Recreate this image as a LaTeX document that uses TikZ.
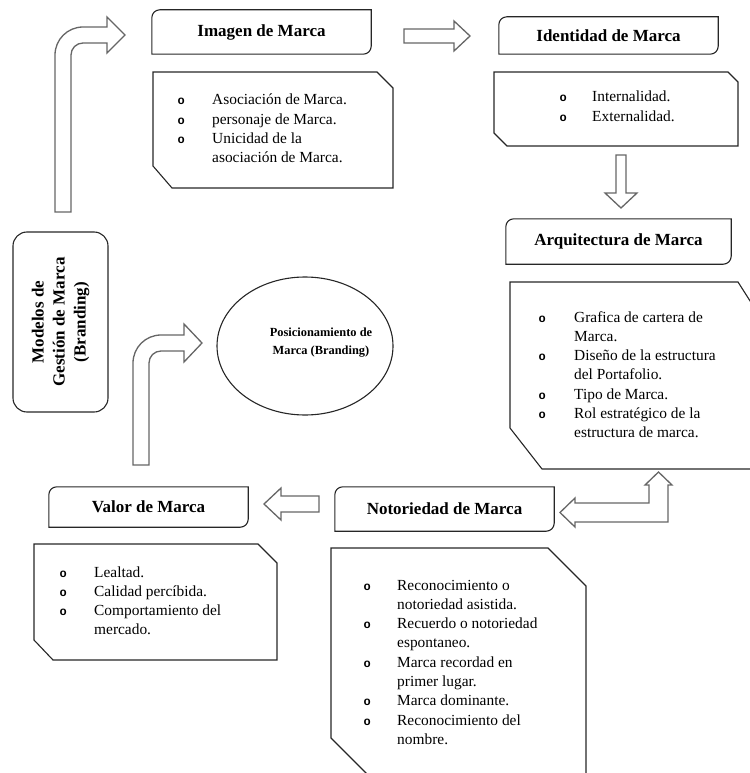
\documentclass[tikz,border=0pt]{standalone}
\usepackage{fontspec}
\setmainfont{Liberation Serif}
\setmonofont{Liberation Mono}
\usetikzlibrary{shapes.geometric,calc}
\newcommand{\lbul}{{\ttfamily\bfseries\fontsize{12}{14}\selectfont o}}
\newcommand{\blist}[2]{\begin{tabular}[t]{@{}p{#1}@{}l@{}}#2\end{tabular}}
\newcommand{\ttlbox}[1]{\draw[boxline] (#1.south west) -- ($(#1.north west)+(0,8)$) arc[start angle=180,end angle=270,radius=8] -- (#1.north east) -- ($(#1.south east)+(0,-8)$) arc[start angle=0,end angle=90,radius=8] -- cycle;}
\tikzset{
  boxline/.style={draw=black!85, line width=1.1pt},
  arrline/.style={draw=black!60, line width=1.3pt, fill=white, line join=miter},
  ttl/.style={font=\fontsize{17}{20}\selectfont\bfseries, inner sep=0pt},
  lst/.style={font=\fontsize{15.4}{19.3}\selectfont, anchor=base west, inner sep=0pt}
}
\begin{document}
\begin{tikzpicture}[x=1pt,y=-1pt]
\useasboundingbox (0,0) rectangle (749,773);

% ---------- title boxes ----------
\node[ttl, minimum width=219pt, minimum height=44pt] (img) at (261.5,32) {Imagen de Marca};
\node[ttl, minimum width=219pt, minimum height=37pt] (ide) at (608.5,35.5) {Identidad de Marca};
\node[ttl, minimum width=225pt, minimum height=45pt] (arq) at (618.5,241.5) {Arquitectura de Marca};
\node[ttl, minimum width=219pt, minimum height=44pt] (not) at (444.5,509) {Notoriedad de Marca};
\node[ttl, minimum width=199pt, minimum height=40pt] (val) at (148.5,507) {Valor de Marca};
\ttlbox{img}
\ttlbox{ide}
\ttlbox{arq}
\ttlbox{not}
\ttlbox{val}

% ---------- list boxes ----------
\draw[boxline] (153,72) -- (377,72) -- (393,88) -- (393,188) -- (172,188) -- (153,166) -- cycle;
\node[lst] (imgl) at (177.4,105) {\blist{34.6pt}{\lbul & Asociación de Marca.\\ \lbul & personaje de Marca.\\ \lbul & Unicidad de la\\ & asociación de Marca.}};

\draw[boxline] (494,72) -- (728,72) -- (738,82) -- (738,146) -- (507,146) -- (494,133) -- cycle;
\node[lst] (idel) at (559.4,102) {\blist{32.6pt}{\lbul & Internalidad.\\ \lbul & Externalidad.}};

\draw[boxline] (510,282) -- (738,282) -- (752,304) -- (752,469) -- (542,469) -- (510,428) -- cycle;
\node[lst] (arql) at (538.4,322) {\blist{35.6pt}{\lbul & Grafica de cartera de\\ & Marca.\\ \lbul & Diseño de la estructura\\ & del Portafolio.\\ \lbul & Tipo de Marca.\\ \lbul & Rol estratégico de la\\ & estructura de marca.}};

\draw[boxline] (34,544) -- (258,544) -- (277,563) -- (277,660) -- (53,660) -- (34,640) -- cycle;
\node[lst] (vall) at (59.4,577) {\blist{34.6pt}{\lbul & Lealtad.\\ \lbul & Calidad percíbida.\\ \lbul & Comportamiento del\\ & mercado.}};

\draw[boxline] (331,548) -- (548,548) -- (586,586) -- (586,780) -- (373,780) -- (331,738) -- cycle;
\node[lst] (notl) at (363.4,590) {\blist{33.6pt}{\lbul & Reconocimiento o\\ & notoriedad asistida.\\ \lbul & Recuerdo o notoriedad\\ & espontaneo.\\ \lbul & Marca recordad en\\ & primer lugar.\\ \lbul & Marca dominante.\\ \lbul & Reconocimiento del\\ & nombre.}};

% ---------- Modelos box ----------
\node[boxline, draw, rounded corners=14pt, minimum width=95pt, minimum height=180pt] (mod) at (60.5,322) {};
\node[rotate=90, font=\fontsize{17}{21}\selectfont\bfseries, align=center, inner sep=0pt] (modt) at (mod.center) {Modelos de\\Gestión de Marca\\(Branding)};

% ---------- ellipse ----------
\node[boxline, draw, ellipse, minimum width=176pt, minimum height=138pt, inner sep=0pt] (pos) at (305,346) {};
\node[align=center, inner sep=0pt, font=\fontsize{12.4}{18}\selectfont\bfseries] (post) at (321,343) {Posicionamiento de\\Marca (Branding)};

% ---------- block arrows ----------
% bent arrow Modelos -> Imagen
\draw[arrline] (55,212) -- (55,55) arc[start angle=180,end angle=270,radius=28] -- (107,27) -- (107,17) -- (125,35) -- (107,53) -- (107,43) -- (83,43) arc[start angle=270,end angle=180,radius=12] -- (71,212) -- cycle;
% Imagen -> Identidad
\draw[arrline] (404,29) -- (454,29) -- (454,21) -- (470,36) -- (454,51) -- (454,43) -- (404,43) -- cycle;
% Identidad -> Arquitectura
\draw[arrline] (616,155) -- (626,155) -- (626,193) -- (637,193) -- (621,208) -- (605,193) -- (616,193) -- cycle;
% Arquitectura <-> Notoriedad (L-shaped)
\draw[arrline] (560,512.5) -- (575,498) -- (575,503) -- (649,503) -- (649,485) -- (645,485) -- (658.5,472) -- (672,485) -- (668,485) -- (668,522) -- (575,522) -- (575,527) -- cycle;
% Notoriedad -> Valor
\draw[arrline] (319,496) -- (281,496) -- (281,488) -- (264,504) -- (281,520) -- (281,512) -- (319,512) -- cycle;
% bent arrow Valor -> Posicionamiento
\draw[arrline] (133,465) -- (133,363) arc[start angle=180,end angle=270,radius=28] -- (184,335) -- (184,324) -- (202,343) -- (184,362) -- (184,351) -- (161,351) arc[start angle=270,end angle=180,radius=12] -- (149,465) -- cycle;
\end{tikzpicture}
\end{document}
